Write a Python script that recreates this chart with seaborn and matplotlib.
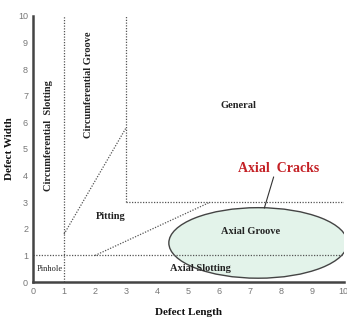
import matplotlib
matplotlib.use("Agg")
from matplotlib import pyplot as plt
from matplotlib.patches import Ellipse
import pandas as pd
import seaborn as sns

# boundary segments of the defect map (x = length, y = width)
seg_names = ["slot_edge", "groove_edge", "general_bottom", "pinhole_top",
             "groove_diag", "pitting_diag"]
seg_x = [[1, 1], [3, 3], [3, 10], [0, 10], [1, 3], [2, 5.7]]
seg_y = [[0, 10], [3, 10], [3, 3], [1, 1], [1.8, 5.8], [1, 3]]

# axial groove ellipse: centre, width, height
ell_center = (7.25, 1.47)
ell_size = (5.75, 2.65)

# arrow from "Axial Cracks" to the ellipse
crack_x = [7.45, 7.75]
crack_y = [2.78, 3.95]

regions = ["General", "Pitting", "Axial Groove", "Axial Slotting", "Pinhole"]
region_x = [6.6, 2.5, 7.0, 5.4, 0.55]
region_y = [6.65, 2.45, 1.9, 0.5, 0.5]

rows = []
for name, xs, ys in zip(seg_names, seg_x, seg_y):
    for i, (x, y) in enumerate(zip(xs, ys)):
        rows.append({"seg": name, "order": i, "x": x, "y": y})
segs = pd.DataFrame(rows)

sns.set_style("white")
plt.rcParams['font.family'] = ['Liberation Serif', 'DejaVu Serif']

fig = plt.figure(figsize=(3.47, 3.18), dpi=100)
ax = fig.add_axes([0.095, 0.113, 0.895, 0.837])

ell = Ellipse(ell_center, ell_size[0], ell_size[1], facecolor="#e3f3ea",
              edgecolor="#444444", linewidth=1.0, zorder=1)
ax.add_patch(ell)

for name in seg_names:
    d = segs[segs["seg"] == name]
    sns.lineplot(data=d, x="x", y="y", ax=ax, estimator=None, sort=False,
                 color="#555555", linewidth=0.9, linestyle=(0, (1, 1.2)),
                 zorder=2)

sns.lineplot(x=crack_x, y=crack_y, ax=ax, estimator=None, sort=False,
             color="#333333", linewidth=0.8, zorder=3)

for name, x, y in zip(regions, region_x, region_y):
    size = 6 if name == "Pinhole" else 7.5
    weight = "normal" if name == "Pinhole" else "bold"
    ax.text(x, y, name, ha="center", va="center", fontsize=size,
            fontweight=weight, color="#222222", zorder=4)

ax.text(7.9, 4.25, "Axial  Cracks", ha="center", va="center", fontsize=10,
        fontweight="bold", color="#c42126")
ax.text(0.5, 5.5, "Circumferential  Slotting", rotation=90, ha="center",
        va="center", fontsize=7.5, fontweight="bold", color="#222222")
ax.text(1.8, 7.4, "Circumferential Groove", rotation=90, ha="center",
        va="center", fontsize=7.5, fontweight="bold", color="#222222")

ax.set_xlim(0, 10)
ax.set_ylim(0, 10)
ax.set_xticks(range(0, 11))
ax.set_yticks(range(0, 11))
ax.tick_params(axis="both", direction="out", length=2.5, width=0.8,
               color="#555555", labelsize=6.5, labelcolor="#777777", pad=1)
for lab in ax.get_xticklabels() + ax.get_yticklabels():
    lab.set_family(["Liberation Sans", "DejaVu Sans"])

sns.despine(ax=ax)
for side in ["left", "bottom"]:
    ax.spines[side].set_color("#444444")
    ax.spines[side].set_linewidth(1.8)

ax.set_xlabel("Defect Length", fontsize=8, fontweight="bold", labelpad=9,
              color="#111111")
ax.set_ylabel("Defect Width", fontsize=8, fontweight="bold", labelpad=3,
              color="#111111")

plt.savefig("out.png", dpi=100)
